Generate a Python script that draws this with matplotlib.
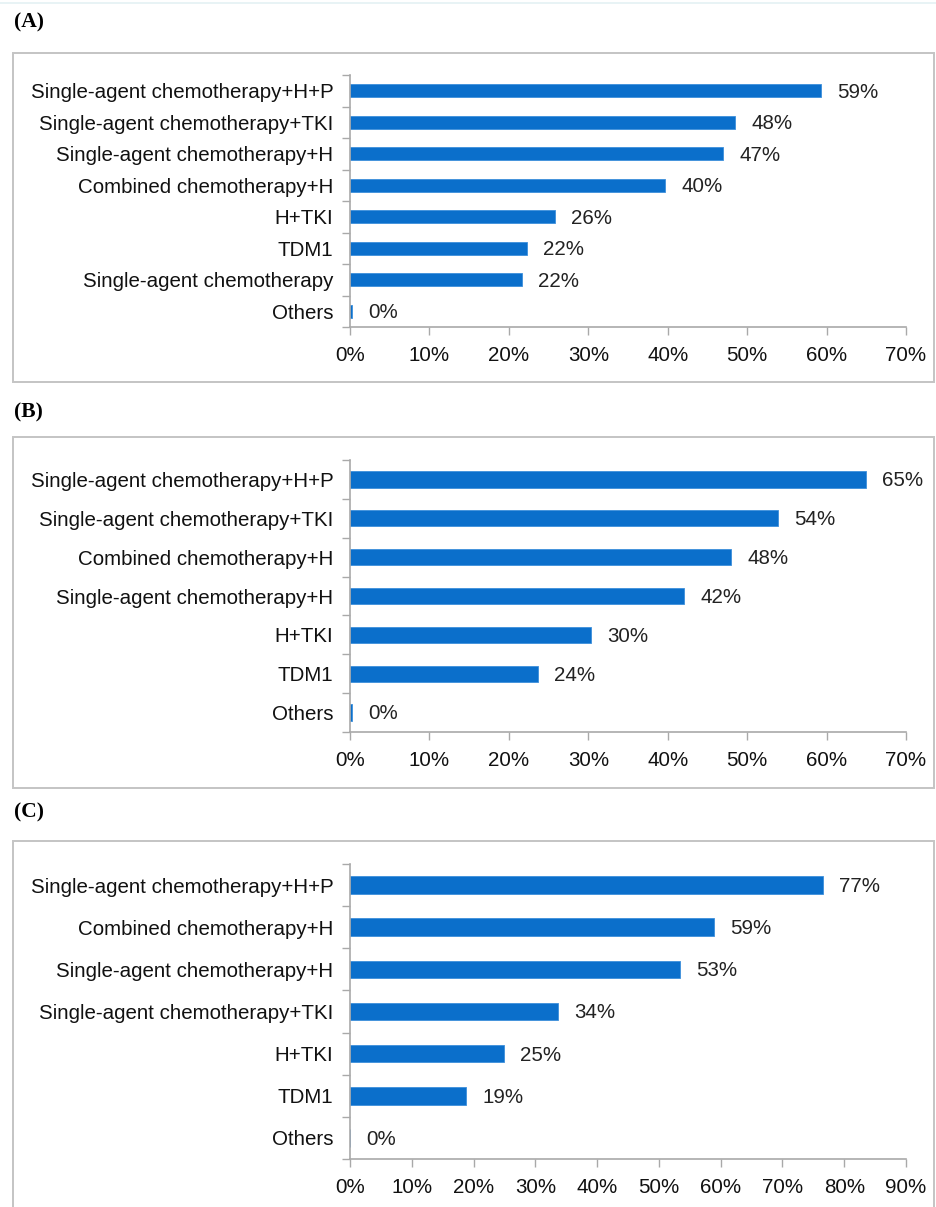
import matplotlib
matplotlib.use("Agg")
import matplotlib.pyplot as plt
from matplotlib.patches import Rectangle
from matplotlib.lines import Line2D
from matplotlib.ticker import FixedLocator

plt.rcParams['font.family'] = ['Liberation Sans', 'DejaVu Sans']

# Panel A: share of respondents choosing each regimen
labels_a = ["Single-agent chemotherapy+H+P", "Single-agent chemotherapy+TKI",
            "Single-agent chemotherapy+H", "Combined chemotherapy+H", "H+TKI",
            "TDM1", "Single-agent chemotherapy", "Others"]
values_a = [59.3, 48.5, 47.0, 39.7, 25.8, 22.3, 21.6, 0.3]

# Panel B
labels_b = ["Single-agent chemotherapy+H+P", "Single-agent chemotherapy+TKI",
            "Combined chemotherapy+H", "Single-agent chemotherapy+H", "H+TKI",
            "TDM1", "Others"]
values_b = [65.0, 53.9, 48.0, 42.1, 30.4, 23.7, 0.3]

# Panel C
labels_c = ["Single-agent chemotherapy+H+P", "Combined chemotherapy+H",
            "Single-agent chemotherapy+H", "Single-agent chemotherapy+TKI", "H+TKI",
            "TDM1", "Others"]
values_c = [76.6, 58.9, 53.4, 33.7, 24.9, 18.8, 0.0]

panel_names = ["(A)", "(B)", "(C)"]
xmax = [70, 70, 90]

W, H = 937, 1207
BAR = "#0b6fcb"
AXIS = "#a9a9a9"
FS = 14.8

fig = plt.figure(figsize=(W / 100, H / 100), dpi=100)


def fx(px):
    return px / W


def fy(py):
    return 1 - py / H


# faint rule along the very top edge
fig.add_artist(Line2D([0, 1], [fy(3), fy(3)], transform=fig.transFigure,
                      color="#e4f1f3", lw=1.2))

# layout in pixels: (box_top, box_bottom, axis_top, axis_bottom, title_y)
layout = [
    (53, 382, 75, 327, 22),
    (437, 788, 460, 732, 412),
    (841, 1215, 864, 1159, 812),
]

datasets = [(labels_a, values_a), (labels_b, values_b), (labels_c, values_c)]

x0, x1 = 350, 906

for (labels, values), (bt, bb, at, ab, ty), name, xm in zip(datasets, layout, panel_names, xmax):
    # panel frame
    fig.add_artist(Rectangle((fx(13), fy(bb)), fx(934) - fx(13), fy(bt) - fy(bb),
                             transform=fig.transFigure, fill=False,
                             edgecolor="#c4c4c4", lw=1.4))
    fig.text(fx(14), fy(ty), name, family="Liberation Serif", weight="bold",
             fontsize=15.5, va="center", ha="left")

    ax = fig.add_axes([fx(x0), fy(ab), fx(x1) - fx(x0), fy(at) - fy(ab)])
    n = len(labels)
    pos = list(range(n))
    ax.barh(pos, values, height=0.42, color=BAR, edgecolor="#3d8fdb", lw=0.6)
    ax.set_ylim(n - 0.5, -0.5)
    ax.set_xlim(0, xm)

    for p, v in zip(pos, values):
        ax.annotate(f"{v:.0f}%", xy=(v, p), xytext=(11.5, -1),
                    textcoords="offset points", va="center", ha="left",
                    fontsize=FS, color="#222222")

    ax.set_yticks(pos)
    ax.set_yticklabels(labels, fontsize=FS, color="#111111")
    ax.yaxis.set_minor_locator(FixedLocator([i - 0.5 for i in range(n + 1)]))
    ax.tick_params(axis="y", which="major", length=0, pad=12)
    ax.tick_params(axis="y", which="minor", length=6, width=1, color=AXIS)

    ticks = list(range(0, xm + 1, 10))
    ax.set_xticks(ticks)
    ax.set_xticklabels([f"{t}%" for t in ticks], fontsize=FS, color="#111111")
    ax.tick_params(axis="x", which="major", length=6, width=1, color=AXIS, pad=7.5)

    for s in ["top", "right"]:
        ax.spines[s].set_visible(False)
    for s in ["left", "bottom"]:
        ax.spines[s].set_color(AXIS)
        ax.spines[s].set_linewidth(1.2)
    ax.patch.set_alpha(0)

fig.savefig("out.png", dpi=100)
